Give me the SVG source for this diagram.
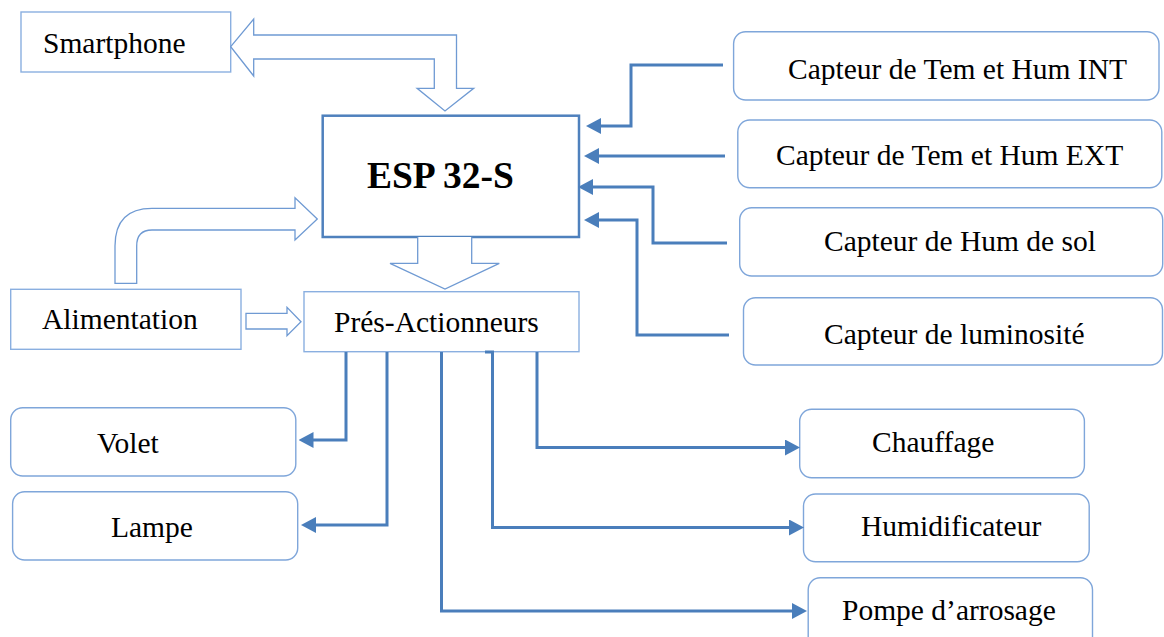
<svg xmlns="http://www.w3.org/2000/svg" width="1164" height="637" viewBox="0 0 1164 637">
<style>
.bg{fill:#ffffff}
.sq{fill:#ffffff;stroke:#8aafe0;stroke-width:1.4}
.rr{fill:#ffffff;stroke:#7fa6da;stroke-width:1.4}
.esp{fill:#ffffff;stroke:#4f81bd;stroke-width:2.5}
.blk{fill:#ffffff;stroke:#6f9ad3;stroke-width:1.3;stroke-linejoin:miter}
.t{font-family:"Liberation Serif","Times New Roman",serif;font-size:29.5px;fill:#000000}
.tb{font-family:"Liberation Serif","Times New Roman",serif;font-size:37.5px;font-weight:bold;fill:#000000}
.cn{fill:none;stroke:#4a7ebb;stroke-width:3}
</style>
<defs>
<marker id="ah" viewBox="0 0 15 16" markerUnits="userSpaceOnUse" markerWidth="15" markerHeight="16" refX="11" refY="8" orient="auto">
<path d="M0,0 L15,8 L0,16 Z" fill="#4a7ebb"/>
</marker>
</defs>
<rect class="bg" x="0" y="0" width="1164" height="637"/>

<g id="smartphone">
<rect class="sq" x="21" y="12" width="209.7" height="60"/>
<text class="t" x="43" y="53">Smartphone</text>
</g>

<g id="esp32">
<rect class="esp" x="322.7" y="115.7" width="256.3" height="121.3"/>
<text class="tb" x="367" y="188">ESP 32-S</text>
</g>

<g id="alimentation">
<rect class="sq" x="10.7" y="289.3" width="230.3" height="60"/>
<text class="t" x="42" y="329">Alimentation</text>
</g>

<g id="pres-actionneurs">
<rect class="sq" x="304" y="291.7" width="275" height="60"/>
<text class="t" x="334" y="332">Prés-Actionneurs</text>
</g>

<g id="capteur-int">
<rect class="rr" x="733.6" y="31.7" width="425.4" height="68.3" rx="12"/>
<text class="t" x="788" y="79">Capteur de Tem et Hum INT</text>
</g>

<g id="capteur-ext">
<rect class="rr" x="737.8" y="120" width="424" height="67.7" rx="12"/>
<text class="t" x="776" y="165">Capteur de Tem et Hum EXT</text>
</g>

<g id="capteur-sol">
<rect class="rr" x="739.7" y="207.7" width="423" height="68.3" rx="12"/>
<text class="t" x="824" y="251">Capteur de Hum de sol</text>
</g>

<g id="capteur-lum">
<rect class="rr" x="743.5" y="297.7" width="419" height="67.3" rx="12"/>
<text class="t" x="824" y="344">Capteur de luminosité</text>
</g>

<g id="volet">
<rect class="rr" x="10.7" y="407.7" width="285.1" height="68.3" rx="12"/>
<text class="t" x="97" y="453">Volet</text>
</g>

<g id="lampe">
<rect class="rr" x="12.6" y="491.7" width="285.1" height="68.3" rx="12"/>
<text class="t" x="111" y="537">Lampe</text>
</g>

<g id="chauffage">
<rect class="rr" x="799.7" y="409.3" width="284.7" height="68.4" rx="12"/>
<text class="t" x="872" y="452">Chauffage</text>
</g>

<g id="humidificateur">
<rect class="rr" x="803.5" y="494" width="285.7" height="67.7" rx="12"/>
<text class="t" x="861" y="536">Humidificateur</text>
</g>

<g id="pompe">
<rect class="rr" x="808.2" y="577.7" width="284.3" height="90" rx="12"/>
<text class="t" x="842" y="620">Pompe d’arrosage</text>
</g>

<g id="connectors">
<path class="blk" d="M230.7,46.7 L253.7,19 L253.7,35 L456.5,35 L456.5,88.3 L473.7,88.3 L445,111 L417.1,88.3 L434.3,88.3 L434.3,59 L253.7,59 L253.7,76 Z"/>
<path class="blk" d="M115,283.3 L115,246 Q115,208.3 152,208.3 L295,208.3 L295,197.7 L317.3,219 L295,240 L295,230 L152,230 Q136.7,230 136.7,246 L136.7,283.3 Z"/>
<path class="blk" d="M417.7,237 L417.7,263.3 L390,263.3 L445,289 L499.3,263.3 L471.7,263.3 L471.7,237"/>
<path class="blk" d="M246,313.3 L287,313.3 L287,307.3 L301,321.7 L287,335.7 L287,329 L246,329 Z"/>

<path class="cn" marker-end="url(#ah)" d="M723,65 H631 V126 H590"/>
<path class="cn" marker-end="url(#ah)" d="M725,156 H588"/>
<path class="cn" marker-end="url(#ah)" d="M727,243 H653 V187 H582"/>
<path class="cn" marker-end="url(#ah)" d="M729,335 H637 V220 H588"/>

<path class="cn" marker-end="url(#ah)" d="M346,352 V440 H302.5"/>
<path class="cn" marker-end="url(#ah)" d="M387,352 V525 H305"/>
<path class="cn" marker-end="url(#ah)" d="M441.5,352 V611 H803"/>
<path class="cn" marker-end="url(#ah)" d="M485,352 H492.5 V527.5 H800"/>
<path class="cn" marker-end="url(#ah)" d="M537,352 V447.5 H796"/>
</g>
</svg>
